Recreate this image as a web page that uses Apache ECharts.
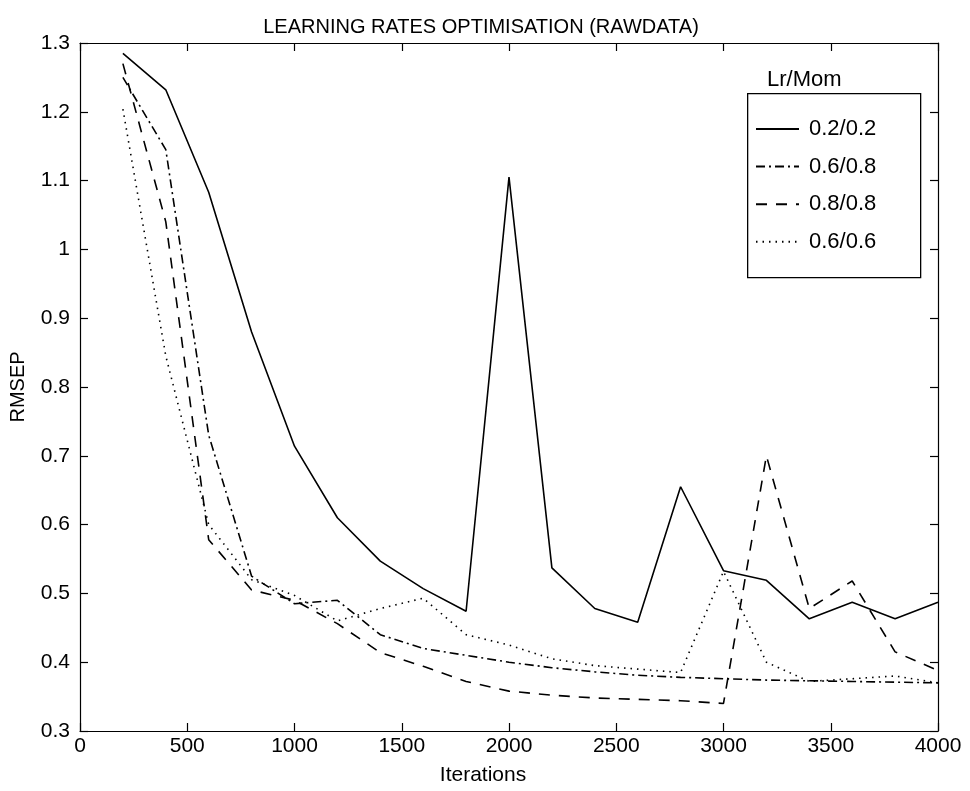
<!DOCTYPE html>
<html>
<head>
<meta charset="utf-8">
<script src="https://cdn.jsdelivr.net/npm/echarts@6/dist/echarts.min.js"></script>
<style>
html,body{margin:0;padding:0;background:#fff;}
#c{width:970px;height:791px;}
</style>
</head>
<body>
<div id="c"></div>
<script>
var iterations = [200,400,600,800,1000,1200,1400,1600,1800,2000,2200,2400,2600,2800,3000,3200,3400,3600,3800,4000];
var seriesNames = ['0.2/0.2','0.6/0.8','0.8/0.8','0.6/0.6'];
var lr02mom02 = [1.285,1.232,1.083,0.880,0.714,0.610,0.547,0.507,0.474,1.105,0.537,0.478,0.458,0.655,0.533,0.519,0.463,0.487,0.463,0.487];
var lr06mom08 = [1.250,1.145,0.730,0.525,0.485,0.490,0.440,0.420,0.410,0.400,0.392,0.386,0.381,0.378,0.376,0.374,0.373,0.372,0.371,0.370];
var lr08mom08 = [1.270,1.040,0.578,0.505,0.490,0.456,0.414,0.394,0.372,0.358,0.352,0.348,0.346,0.344,0.340,0.700,0.478,0.518,0.415,0.388];
var lr06mom06 = [1.204,0.845,0.600,0.520,0.497,0.460,0.478,0.493,0.440,0.425,0.405,0.395,0.390,0.385,0.532,0.400,0.372,0.376,0.380,0.370];
var xTicks = [0,500,1000,1500,2000,2500,3000,3500,4000];
var yTicks = [0.3,0.4,0.5,0.6,0.7,0.8,0.9,1,1.1,1.2,1.3];

function pairs(vals){ return iterations.map(function(it,i){ return [it, vals[i]]; }); }

var chart = echarts.init(document.getElementById('c'), null, {renderer:'canvas'});
var font = 'Liberation Sans, Arial, Helvetica, sans-serif';
var dashTypes = ['solid',[9,4,2,4],[11,9],[1.5,5]];
var allVals = [lr02mom02, lr06mom08, lr08mom08, lr06mom06];

var series = allVals.map(function(v,k){
  return {
    name: seriesNames[k], type:'line', data: pairs(v), symbol:'none', showSymbol:false,
    clip:true, animation:false,
    lineStyle:{color:'#000', width:1.6, type: dashTypes[k]},
    itemStyle:{color:'#000'}
  };
});

function tickLabel(v){ return String(Math.round(v*10)/10); }

var tickStyle = {show:true, inside:true, length:8, lineStyle:{color:'#000', width:1.2}};
chart.setOption({
  backgroundColor:'#fff',
  animation:false,
  title:[
    {text:'LEARNING RATES OPTIMISATION (RAWDATA)', left:476, top:12, textAlign:'center',
     textStyle:{fontFamily:font, fontSize:20, fontWeight:'normal', color:'#000'}},
    {text:'Lr/Mom', left:762, top:64,
     textStyle:{fontFamily:font, fontSize:22, fontWeight:'normal', color:'#000'}},
    {text:'Iterations', left:478, top:760, textAlign:'center',
     textStyle:{fontFamily:font, fontSize:21, fontWeight:'normal', color:'#000'}}
  ],
  graphic:[
    {type:'rect', left:747, top:93, z:50,
     shape:{x:0, y:0, width:173, height:184},
     style:{fill:'#fff', stroke:'#000', lineWidth:1.3}}
  ],
  legend:{
    orient:'vertical', left:755, top:118, z:60,
    padding:0, itemGap:15.6, itemWidth:43, itemHeight:14,
    itemStyle:{color:'rgba(0,0,0,0)', borderWidth:0, opacity:0},
    textStyle:{fontFamily:font, fontSize:22, color:'#000', padding:[0,0,0,5]},
    data: seriesNames.slice()
  },
  grid:{left:73, right:32, top:43, bottom:60, containLabel:false, show:false},
  xAxis:[
    {type:'value', min:0, max:4000, interval:500, position:'bottom',
     axisLine:{show:true, onZero:false, lineStyle:{color:'#000', width:1.2}},
     axisTick:tickStyle, splitLine:{show:false},
     axisLabel:{fontFamily:font, fontSize:21, color:'#000', margin:5,
       formatter:function(v){ return String(v); }}},
    {type:'value', min:0, max:4000, interval:500, position:'top',
     axisLine:{show:true, onZero:false, lineStyle:{color:'#000', width:1.2}},
     axisTick:tickStyle, splitLine:{show:false}, axisLabel:{show:false}}
  ],
  yAxis:[
    {type:'value', min:0.3, max:1.3, interval:0.1, position:'left',
     name:'RMSEP', nameLocation:'middle', nameGap:52, nameRotate:90,
     nameTextStyle:{fontFamily:font, fontSize:20, color:'#000'},
     axisLine:{show:true, onZero:false, lineStyle:{color:'#000', width:1.2}},
     axisTick:tickStyle, splitLine:{show:false},
     axisLabel:{fontFamily:font, fontSize:21, color:'#000', margin:10, formatter:tickLabel}},
    {type:'value', min:0.3, max:1.3, interval:0.1, position:'right',
     axisLine:{show:true, onZero:false, lineStyle:{color:'#000', width:1.2}},
     axisTick:tickStyle, splitLine:{show:false}, axisLabel:{show:false}}
  ],
  series: series
});
</script>
</body>
</html>
